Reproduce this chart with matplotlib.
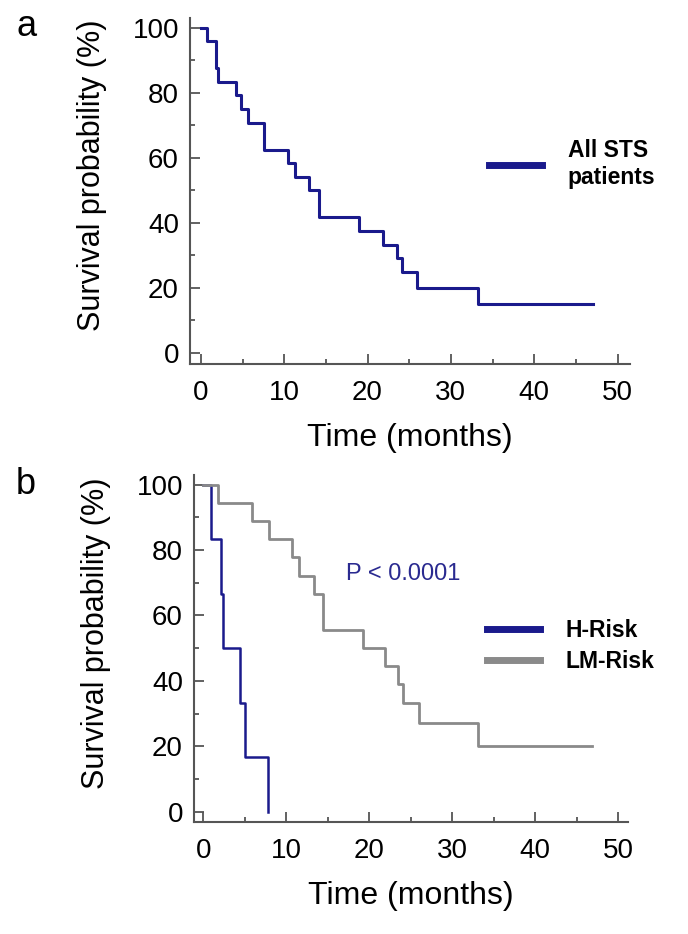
import numpy as np
import matplotlib.pyplot as plt
from matplotlib.ticker import MultipleLocator

plt.rcParams['font.family'] = ['Liberation Sans', 'DejaVu Sans']

# Panel a: all STS patients (Kaplan-Meier steps, time in months, survival in %)
all_time = [0, 0.7, 1.8, 2.0, 4.2, 4.8, 5.7, 7.6, 10.5, 11.3, 13.0, 14.2,
            19.0, 21.8, 23.5, 24.1, 25.9, 33.3, 47.0]
all_surv = [100, 95.8, 87.5, 83.3, 79.2, 75.0, 70.8, 62.5, 58.3, 54.2, 50.0,
            41.7, 37.5, 33.3, 29.2, 25.0, 20.0, 15.0, 15.0]

# Panel b: risk groups
h_time = [0, 1.0, 2.1, 2.4, 4.5, 5.0, 7.8]
h_surv = [100, 83.3, 66.7, 50.0, 33.3, 16.7, 0]
lm_time = [0, 1.8, 5.9, 7.9, 10.7, 11.5, 13.4, 14.4, 19.3, 21.9, 23.5, 24.1,
           26.0, 33.1, 46.9]
lm_surv = [100, 94.4, 88.9, 83.3, 77.8, 72.2, 66.7, 55.6, 50.0, 44.4, 38.9,
           33.3, 27.2, 20.0, 20.0]
p_text = "P < 0.0001"

navy = '#1a1a8c'
grey = '#8a8a8a'
axcol = '#555555'

W, H = 688, 934
fig = plt.figure(figsize=(W / 100, H / 100), dpi=100)


def px_axes(left, top, right, bottom):
    return fig.add_axes([left / W, 1 - bottom / H, (right - left) / W, (bottom - top) / H])


def style(ax, xlim, ylim):
    ax.set_xlim(*xlim)
    ax.set_ylim(*ylim)
    for s in ['top', 'right']:
        ax.spines[s].set_visible(False)
    for s in ['left', 'bottom']:
        ax.spines[s].set_color(axcol)
        ax.spines[s].set_linewidth(1.5)
    ax.xaxis.set_major_locator(MultipleLocator(10))
    ax.xaxis.set_minor_locator(MultipleLocator(5))
    ax.yaxis.set_major_locator(MultipleLocator(20))
    ax.yaxis.set_minor_locator(MultipleLocator(10))
    ax.tick_params(which='both', direction='in', color=axcol, width=1.3, labelsize=20)
    ax.tick_params(which='major', length=7)
    ax.tick_params(which='minor', length=3.6)
    ax.tick_params(axis='x', which='major', pad=11.5)
    ax.tick_params(axis='y', which='major', pad=8)
    ax.set_xlabel("Time (months)", fontsize=23, labelpad=12)
    ax.set_ylabel("Survival probability (%)", fontsize=22, labelpad=18)
    ax.yaxis.label.set_y(0.545)


def big_legend(ax, x_px, y_px, spacing):
    leg = ax.legend(loc='center left', bbox_to_anchor=(x_px / W, 1 - y_px / H),
                    bbox_transform=fig.transFigure, frameon=False, handlelength=2.35,
                    handletextpad=1.1, labelspacing=spacing,
                    prop={'weight': 'bold', 'size': 16.5})
    for l in leg.get_lines():
        l.set_linewidth(5)
    return leg


# ---- panel a ----
ax1 = px_axes(190, 18, 630, 364)
ax1.step(all_time, all_surv, where='post', color=navy, lw=2.2, label="All STS\npatients")
style(ax1, (-1.3, 51.5), (-3.4, 103))
big_legend(ax1, 468, 164, 0.3)
fig.text(27 / W, 1 - 26 / H, "a", fontsize=26, ha='center', va='center')

# ---- panel b ----
ax2 = px_axes(194, 475, 628, 822)
ax2.step(h_time, h_surv, where='post', color=navy, lw=1.8, label="H-Risk")
ax2.step(lm_time, lm_surv, where='post', color=grey, lw=2.0, label="LM-Risk")
style(ax2, (-1.1, 51.2), (-3.2, 103))
ax2.text(346 / W, 1 - 574 / H, p_text, transform=fig.transFigure, color='#2a2a90',
         fontsize=17, va='center', ha='left')
big_legend(ax2, 466, 646, 0.35)
fig.text(26 / W, 1 - 484 / H, "b", fontsize=26, ha='center', va='center')

fig.savefig("out.png", dpi=100)
